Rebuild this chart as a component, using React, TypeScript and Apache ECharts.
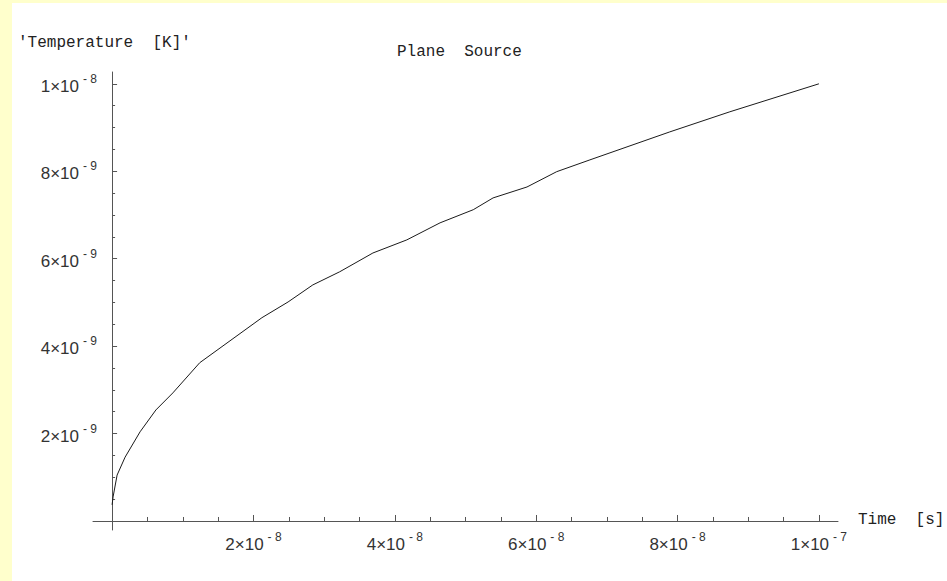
import React, { useEffect, useRef } from "react";
import * as echarts from "echarts";

// Time in units of 1e-9 s, temperature in units of 1e-9 K
const timeNs = [0, 0.14, 0.71, 1.84, 3.96, 6.2, 8.6, 12.4, 21.2, 24.9, 28.4, 32.2, 36.9, 41.7, 46.4, 51.1, 53.9, 58.7, 62.9, 67.6, 78.9, 87.4, 100];
const tempNK = [0.37, 0.55, 1.05, 1.46, 2.04, 2.54, 2.93, 3.62, 4.65, 5.01, 5.4, 5.7, 6.13, 6.43, 6.82, 7.12, 7.39, 7.64, 7.99, 8.26, 8.9, 9.36, 10.0];

const xMajorTicks = [20, 40, 60, 80, 100];
const xMinorTicks = [5, 10, 15, 25, 30, 35, 45, 50, 55, 65, 70, 75, 85, 90, 95];
const yMajorTicks = [2, 4, 6, 8, 10];
const yMinorTicks = [0.5, 1, 1.5, 2.5, 3, 3.5, 4.5, 5, 5.5, 6.5, 7, 7.5, 8.5, 9, 9.5];

const chartTitle = "Plane  Source";
const yAxisTitle = "'Temperature  [K]'";
const xAxisTitle = "Time  [s]";
const unitExp = -9;

function sciLabel(v: number): string {
  const e = Math.floor(Math.log10(v) + 1e-9);
  const mant = Math.round(v / Math.pow(10, e));
  return `{m|${mant}\u00d710}{s|- ${-(e + unitExp)}}`;
}

const AXIS_COLOR = "#555";
const LABEL_COLOR = "#333";
const rich = {
  m: { fontFamily: "Liberation Sans", fontSize: 17, lineHeight: 22, verticalAlign: "bottom", color: LABEL_COLOR },
  s: { fontFamily: "Liberation Sans", fontSize: 12, verticalAlign: "top", padding: [0, 0, 0, 4], color: LABEL_COLOR },
};

const X_MIN = -2.7, X_MAX = 102.7, Y_MIN = -0.206, Y_MAX = 10.27;

export default function App() {
  const ref = useRef<HTMLDivElement>(null);
  useEffect(() => {
    if (!ref.current) return;
    const chart = echarts.init(ref.current, undefined, { renderer: "svg" });
    const monoFont = '16px "Liberation Mono"';
    chart.setOption({
      animation: false,
      backgroundColor: "#FFFFCC",
      grid: { left: 93, right: 109, top: 72, bottom: 51, containLabel: false, outerBoundsMode: "none" },
      graphic: [
        { type: "rect", z: -100, silent: true, shape: { x: 12, y: 3, width: 935, height: 578 }, style: { fill: "#ffffff" } },
        { type: "text", x: 18, y: 43, style: { text: yAxisTitle, font: monoFont, fill: "#222", verticalAlign: "middle" } },
        { type: "text", x: 397, y: 52, style: { text: chartTitle, font: monoFont, fill: "#222", verticalAlign: "middle" } },
        { type: "text", x: 858, y: 520, style: { text: xAxisTitle, font: monoFont, fill: "#222", verticalAlign: "middle" } },
      ],
      xAxis: [
        {
          type: "value", min: X_MIN, max: X_MAX, position: "bottom",
          axisLine: { show: true, onZero: true, onZeroAxisIndex: 0, lineStyle: { color: AXIS_COLOR, width: 1 } },
          axisTick: { show: true, inside: true, length: 6, customValues: xMajorTicks, lineStyle: { color: AXIS_COLOR } },
          axisLabel: { show: true, margin: 1, customValues: xMajorTicks, formatter: (v: number) => sciLabel(v), rich },
          splitLine: { show: false },
        },
        {
          type: "value", min: X_MIN, max: X_MAX, position: "bottom",
          axisLine: { show: true, onZero: true, onZeroAxisIndex: 0, lineStyle: { color: "rgba(0,0,0,0)" } },
          axisTick: { show: true, inside: true, length: 4, customValues: xMinorTicks, lineStyle: { color: AXIS_COLOR } },
          axisLabel: { show: false },
          splitLine: { show: false },
        },
      ],
      yAxis: [
        {
          type: "value", min: Y_MIN, max: Y_MAX, position: "left",
          axisLine: { show: true, onZero: true, onZeroAxisIndex: 0, lineStyle: { color: AXIS_COLOR, width: 1 } },
          axisTick: { show: true, inside: true, length: 5, customValues: yMajorTicks, lineStyle: { color: AXIS_COLOR } },
          axisLabel: { show: true, margin: -4, customValues: yMajorTicks, formatter: (v: number) => sciLabel(v), rich },
          splitLine: { show: false },
        },
        {
          type: "value", min: Y_MIN, max: Y_MAX, position: "left",
          axisLine: { show: true, onZero: true, onZeroAxisIndex: 0, lineStyle: { color: "rgba(0,0,0,0)" } },
          axisTick: { show: true, inside: true, length: 3, customValues: yMinorTicks, lineStyle: { color: AXIS_COLOR } },
          axisLabel: { show: false },
          splitLine: { show: false },
        },
      ],
      series: [
        {
          type: "line",
          xAxisIndex: 0,
          yAxisIndex: 0,
          data: timeNs.map((t, i) => [t, tempNK[i]]),
          showSymbol: false,
          symbol: "none",
          silent: true,
          lineStyle: { color: "#1a1a1a", width: 1 },
        },
      ],
    });
    return () => chart.dispose();
  }, []);
  return (
    <div ref={ref} style={{ position: "fixed", left: 0, top: 0, width: 947, height: 581 }} />
  );
}
